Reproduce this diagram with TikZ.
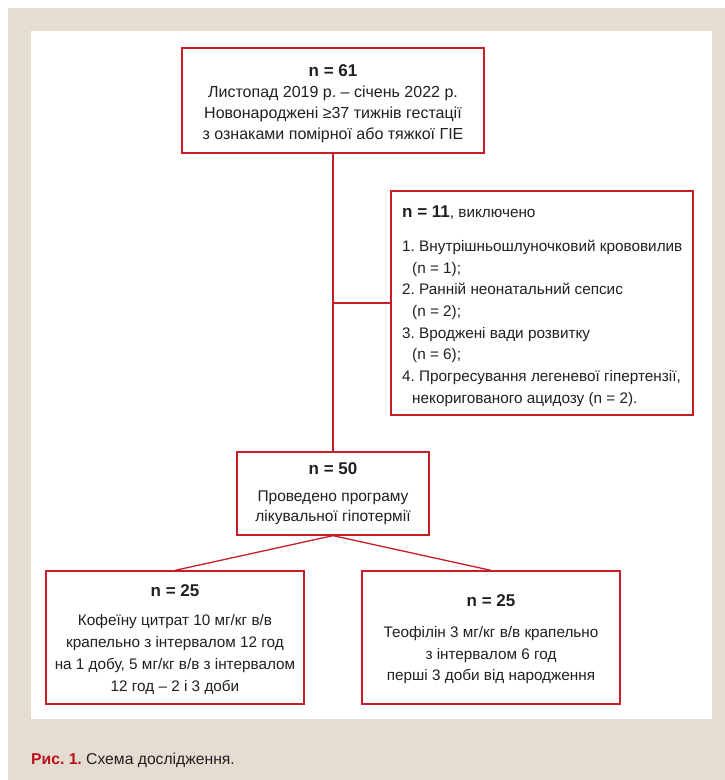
\documentclass[tikz,border=0pt]{standalone}
\usepackage{fontspec}
\setmainfont{Liberation Sans}
\frenchspacing
\definecolor{beige}{RGB}{229,221,210}
\definecolor{boxred}{RGB}{200,28,38}
\definecolor{capred}{RGB}{185,18,27}
\definecolor{txt}{RGB}{35,31,32}
\begin{document}
\begin{tikzpicture}[x=1pt,y=-1pt,
  box/.style={draw=boxred,line width=1.3pt,fill=white,inner sep=0pt},
  conn/.style={draw=boxred,line width=1.3pt},
  head/.style={anchor=base,text=txt,inner sep=0pt,font=\fontsize{17}{21}\selectfont\bfseries},
  body/.style={anchor=base,text=txt,inner sep=0pt,align=center,font=\fontsize{15.5}{21}\selectfont},
  lbody/.style={anchor=base west,text=txt,inner sep=0pt,align=left,font=\fontsize{15.3}{21.67}\selectfont}]
\useasboundingbox (0,0) rectangle (725,780);
\fill[white] (0,0) rectangle (725,780);
\fill[beige] (8,8) rectangle (725,780);
\fill[white] (31,31) rectangle (712,719);

% boxes
\node[box,minimum width=302pt,minimum height=105pt] (top) at (333,100.5) {};
\node[box,minimum width=302pt,minimum height=224pt] (excl) at (542,303) {};
\node[box,minimum width=192pt,minimum height=83pt] (mid) at (333,493.5) {};
\node[box,minimum width=258pt,minimum height=133pt] (left) at (175,637.5) {};
\node[box,minimum width=258pt,minimum height=133pt] (right) at (491,637.5) {};

% connectors
\draw[conn] (top.south) -- (mid.north);
\draw[conn] (top.south |- excl.west) -- (excl.west);
\draw[conn] (mid.south) -- (left.north);
\draw[conn] (mid.south) -- (right.north);

% top box text (base anchor = baseline of last line)
\node[head] (tophead) at (333,76) {n = 61};
\node[body,font=\fontsize{16}{21}\selectfont] (topbody) at (333,139.3) {Листопад 2019 р. – січень 2022 р.\\Новонароджені ≥37 тижнів гестації\\з ознаками помірної або тяжкої ГІЕ};

% excluded box text
\node[anchor=base west,text=txt,inner sep=0pt,font=\fontsize{15.3}{21}\selectfont] (exhead) at (402,217.3) {{\fontsize{17}{21}\selectfont\bfseries n = 11}, виключено};
\node[lbody] (exbody) at (402,403.3) {1. Внутрішньошлуночковий крововилив\\\hspace*{10pt}(n = 1);\\2. Ранній неонатальний сепсис\\\hspace*{10pt}(n = 2);\\3. Вроджені вади розвитку\\\hspace*{10pt}(n = 6);\\4. Прогресування легеневої гіпертензії,\\\hspace*{10pt}некоригованого ацидозу (n = 2).};

% middle box text
\node[head] (midhead) at (333,474) {n = 50};
\node[body,font=\fontsize{15.5}{20}\selectfont] (midbody) at (333,521) {Проведено програму\\лікувальної гіпотермії};

% left box text
\node[head] (lefthead) at (175,596) {n = 25};
\node[body,font=\fontsize{15.3}{22}\selectfont] (leftbody) at (175,691.7) {Кофеїну цитрат 10 мг/кг в/в\\крапельно з інтервалом 12 год\\на 1 добу, 5 мг/кг в/в з інтервалом\\12 год – 2 і 3 доби};

% right box text
\node[head] (righthead) at (491,606.7) {n = 25};
\node[body,font=\fontsize{15.3}{21.7}\selectfont] (rightbody) at (491,680.7) {Теофілін 3 мг/кг в/в крапельно\\з інтервалом 6 год\\перші 3 доби від народження};

% caption
\node[anchor=base west,text=txt,inner sep=0pt,font=\fontsize{15.7}{20}\selectfont] (caption) at (31,764) {{\color{capred}\bfseries Рис. 1.} Схема дослідження.};
\end{tikzpicture}
\end{document}
